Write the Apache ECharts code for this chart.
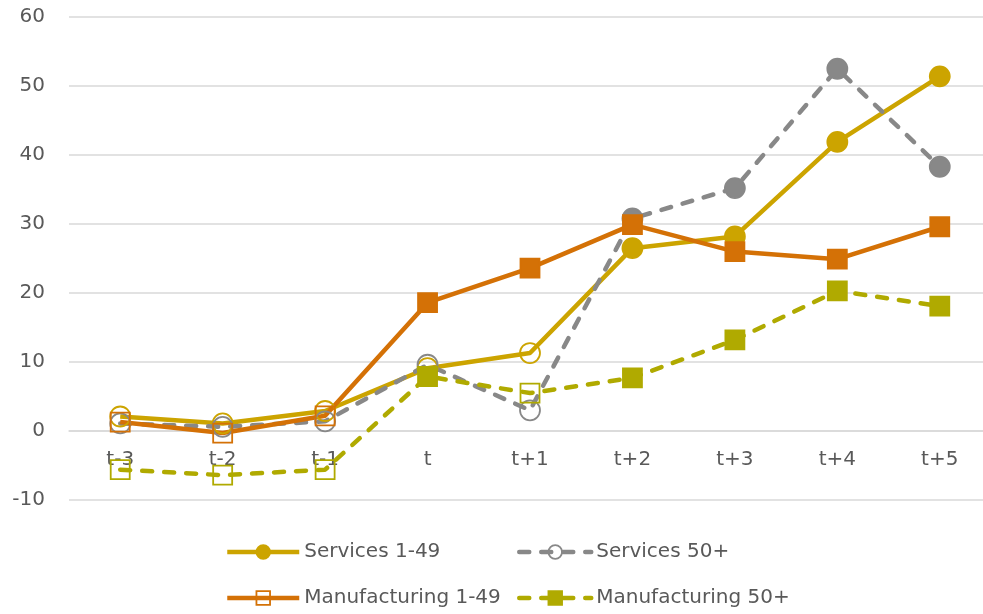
<!DOCTYPE html>
<html>
<head>
<meta charset="utf-8">
<script src="https://cdn.jsdelivr.net/npm/echarts@6/dist/echarts.min.js"></script>
<style>html,body{margin:0;padding:0;background:#fff}#c{width:983px;height:614px}</style>
</head>
<body>
<div id="c"></div>
<script>
const categories = ['t-3','t-2','t-1','t','t+1','t+2','t+3','t+4','t+5'];
const services149 = [2.1, 1.1, 2.9, 9.1, 11.3, 26.5, 28.2, 41.9, 51.4];
const services50 = [1.1, 0.6, 1.4, 9.6, 3.0, 30.8, 35.2, 52.5, 38.3];
const manuf149 = [1.3, -0.3, 2.2, 18.6, 23.6, 29.9, 26.0, 24.9, 29.6];
const manuf50 = [-5.6, -6.4, -5.6, 7.9, 5.5, 7.7, 13.2, 20.3, 18.1];
// filled (true) vs hollow (false) markers
const services149Filled = [false, false, false, false, false, true, true, true, true];
const services50Filled = [false, false, false, false, false, true, true, true, true];
const manuf149Filled = [false, false, false, true, true, true, true, true, true];
const manuf50Filled = [false, false, false, true, false, true, true, true, true];
const yTicks = {min: -10, max: 60, interval: 10};

const FONT = 'DejaVu Sans';
const TXT = '#595959';

function mkData(vals, filled, color) {
  return vals.map((v, i) => ({
    value: v,
    itemStyle: { color: filled[i] ? color : 'rgba(0,0,0,0)', borderColor: color, borderWidth: 1.8 }
  }));
}
function mkSeries(name, vals, filled, color, symbol, dashed, legendFilled) {
  return {
    name, type: 'line', data: mkData(vals, filled, color),
    symbol, symbolSize: symbol === 'circle' ? 20 : 19,
    lineStyle: { color, width: 4.5, type: dashed ? [10, 12] : 'solid', cap: dashed ? 'round' : 'butt' },
    itemStyle: { color: legendFilled ? color : 'rgba(0,0,0,0)', borderColor: color, borderWidth: 1.8 },
    emphasis: { disabled: true }, animation: false, z: 2
  };
}
const cGold = '#CCA400', cGray = '#888888', cOrange = '#D47106', cOlive = '#B0AA00';

function legend(name, left, top) {
  return {
    data: [name], left, top, padding: 0, itemWidth: 72, itemHeight: 17, itemGap: 0,
    lineStyle: { width: 4.5 },
    itemStyle: { borderWidth: 1.8 },
    textStyle: { fontFamily: FONT, fontSize: 20, color: TXT },
    selectedMode: false
  };
}

const chart = echarts.init(document.getElementById('c'), null, { renderer: 'canvas' });
chart.setOption({
  animation: false,
  grid: { left: 69, top: 17, width: 922, height: 483, containLabel: false, outerBoundsMode: 'none' },
  legend: [
    legend('Services 1-49', 225, 542),
    legend('Services 50+', 517, 542),
    legend('Manufacturing 1-49', 225, 588),
    legend('Manufacturing 50+', 517, 588)
  ],
  xAxis: {
    type: 'category', data: categories, boundaryGap: true,
    offset: -69,
    axisLine: { onZero: false, lineStyle: { color: '#D9D9D9', width: 1.5 } },
    axisTick: { show: false },
    axisLabel: { fontFamily: FONT, fontSize: 20, color: TXT, margin: 19 }
  },
  yAxis: {
    type: 'value', min: yTicks.min, max: yTicks.max, interval: yTicks.interval,
    axisLine: { show: false }, axisTick: { show: false },
    axisLabel: { fontFamily: FONT, fontSize: 20, color: TXT, margin: 24 },
    splitLine: { lineStyle: { color: '#D9D9D9', width: 1.5 } }
  },
  series: [
    mkSeries('Services 1-49', services149, services149Filled, cGold, 'circle', false, true),
    mkSeries('Services 50+', services50, services50Filled, cGray, 'circle', true, false),
    mkSeries('Manufacturing 1-49', manuf149, manuf149Filled, cOrange, 'rect', false, false),
    mkSeries('Manufacturing 50+', manuf50, manuf50Filled, cOlive, 'rect', true, true)
  ]
});
</script>
</body>
</html>
